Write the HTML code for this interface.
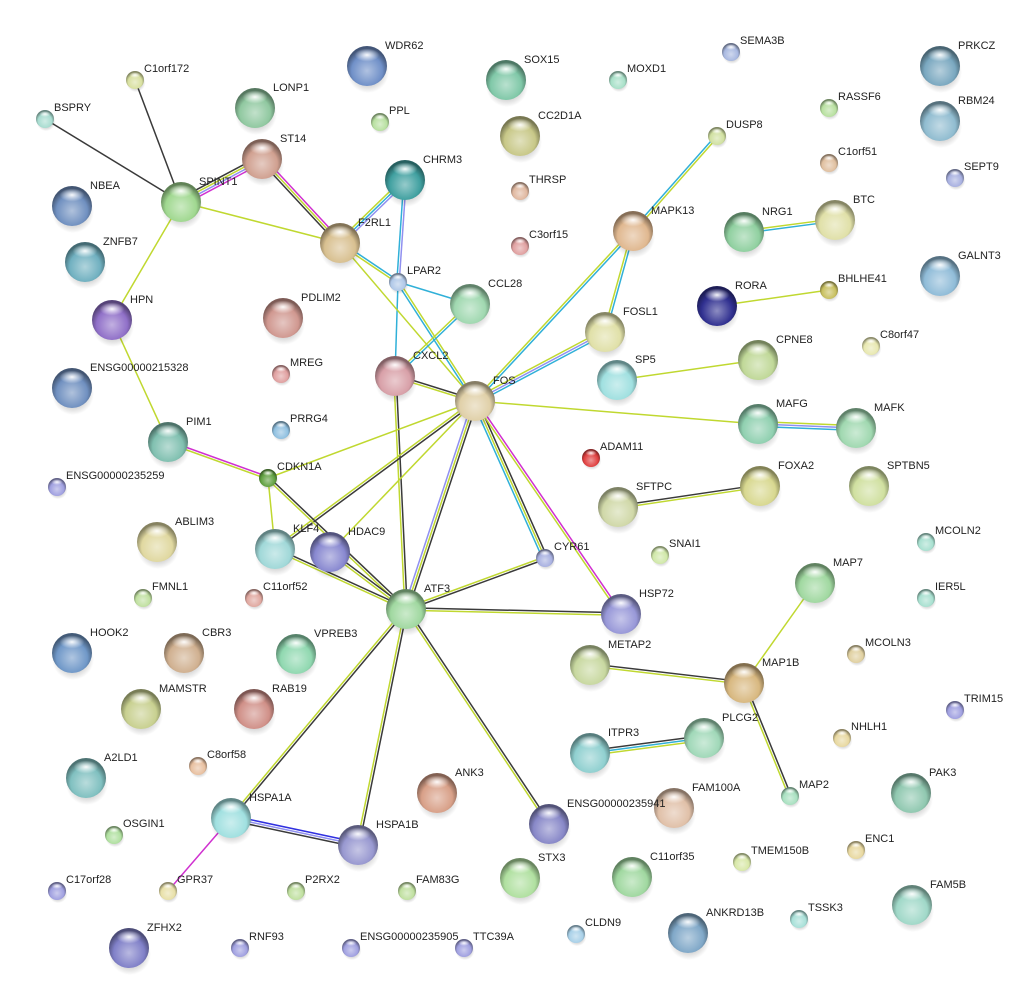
<!DOCTYPE html>
<html><head><meta charset="utf-8"><style>
html,body{margin:0;padding:0;background:#fff;width:1025px;height:993px;overflow:hidden}
svg text{font-family:"Liberation Sans",sans-serif;font-size:11px;fill:#222}
</style></head><body>
<svg id="s" width="1025" height="993" xmlns="http://www.w3.org/2000/svg"><defs id="d"></defs><g id="e"></g><g id="n"></g></svg>
<script>
var N={
"C1orf172":[135,80,9,"#d8e0a0"],"BSPRY":[45,119,9,"#a8dcd0"],"WDR62":[367,66,20,"#7090c8"],"LONP1":[255,108,20,"#90c8a0"],
"PPL":[380,122,9,"#b8e0a0"],"SOX15":[506,80,20,"#80c8a8"],"MOXD1":[618,80,9,"#a8e0c8"],"SEMA3B":[731,52,9,"#a8b8e0"],
"PRKCZ":[940,66,20,"#7aa8c0"],"RASSF6":[829,108,9,"#b8e0a0"],"RBM24":[940,121,20,"#90bcd0"],"CC2D1A":[520,136,20,"#c8c888"],
"DUSP8":[717,136,9,"#d0e0a0"],"C1orf51":[829,163,9,"#e0c0a0"],"SEPT9":[955,178,9,"#a8b0e0"],"ST14":[262,159,20,"#d0a090"],
"CHRM3":[405,180,20,"#40a0a0"],"THRSP":[520,191,9,"#e0b8a0"],"NBEA":[72,206,20,"#7090c0"],"SPINT1":[181,202,20,"#a0d890"],
"F2RL1":[340,243,20,"#d8c090"],"MAPK13":[633,231,20,"#e0b890"],"NRG1":[744,232,20,"#90d0a0"],"BTC":[835,220,20,"#e0e0a8"],
"GALNT3":[940,276,20,"#90bcd8"],"ZNFB7":[85,262,20,"#70b0c0"],"C3orf15":[520,246,9,"#e0a0a0"],"LPAR2":[398,282,9,"#b0c8e8"],
"CCL28":[470,304,20,"#a0d8b0"],"RORA":[717,306,20,"#303090"],"BHLHE41":[829,290,9,"#c8c060"],"HPN":[112,320,20,"#9070c8"],
"PDLIM2":[283,318,20,"#d09890"],"FOSL1":[605,332,20,"#e0e0a8"],"C8orf47":[871,346,9,"#e8e8b0"],"CPNE8":[758,360,20,"#c0d898"],
"ENSG00000215328":[72,388,20,"#7090c0"],"MREG":[281,374,9,"#e0a0a0"],"CXCL2":[395,376,20,"#d8a0a8"],"SP5":[617,380,20,"#a0e0e0"],
"FOS":[475,401,20,"#e0d0a8"],"MAFG":[758,424,20,"#90d0b0"],"MAFK":[856,428,20,"#a0d8b0"],"PIM1":[168,442,20,"#80c0b0"],
"PRRG4":[281,430,9,"#90c0e0"],"ADAM11":[591,458,9,"#e04040"],"CDKN1A":[268,478,9,"#60a040"],"ENSG00000235259":[57,487,9,"#a0a0e0"],
"FOXA2":[760,486,20,"#d8d890"],"SPTBN5":[869,486,20,"#d0e0a0"],"SFTPC":[618,507,20,"#d0d8a8"],"ABLIM3":[157,542,20,"#e0d8a0"],
"KLF4":[275,549,20,"#a0d8d8"],"HDAC9":[330,552,20,"#8888d0"],"MCOLN2":[926,542,9,"#a8e0d0"],"SNAI1":[660,555,9,"#d0e8a8"],
"CYR61":[545,558,9,"#a8b0e0"],"MAP7":[815,583,20,"#a0d8a0"],"FMNL1":[143,598,9,"#c0e0a0"],"C11orf52":[254,598,9,"#e0a8a0"],
"IER5L":[926,598,9,"#a8e0d0"],"ATF3":[406,609,20,"#a0d8a0"],"HSP72":[621,614,20,"#9898d8"],"HOOK2":[72,653,20,"#7098c8"],
"CBR3":[184,653,20,"#d0b090"],"VPREB3":[296,654,20,"#90d8b0"],"METAP2":[590,665,20,"#c8d8a0"],"MCOLN3":[856,654,9,"#e0d0a0"],
"MAP1B":[744,683,20,"#d8b880"],"MAMSTR":[141,709,20,"#c8d090"],"RAB19":[254,709,20,"#d09088"],"TRIM15":[955,710,9,"#a0a0e0"],
"NHLH1":[842,738,9,"#e8d8a0"],"ITPR3":[590,753,20,"#90d0d0"],"PLCG2":[704,738,20,"#a0d8b8"],"A2LD1":[86,778,20,"#80c0c0"],
"C8orf58":[198,766,9,"#e8c0a0"],"MAP2":[790,796,9,"#a8e0c0"],"PAK3":[911,793,20,"#90c8b0"],"ANK3":[437,793,20,"#d8a088"],
"FAM100A":[674,808,20,"#e0c0a8"],"HSPA1A":[231,818,20,"#a0e0e0"],"OSGIN1":[114,835,9,"#b0e0a0"],"ENSG00000235941":[549,824,20,"#8888c8"],
"HSPA1B":[358,845,20,"#9898d0"],"TMEM150B":[742,862,9,"#d8e8a8"],"ENC1":[856,850,9,"#e8d8a0"],"C11orf35":[632,877,20,"#a0d8a0"],
"STX3":[520,878,20,"#b0e0a0"],"C17orf28":[57,891,9,"#a0a0e0"],"GPR37":[168,891,9,"#e8e0a8"],"P2RX2":[296,891,9,"#c0e0a0"],
"FAM83G":[407,891,9,"#c0e0a0"],"FAM5B":[912,905,20,"#a0d8c8"],"TSSK3":[799,919,9,"#a8e0d8"],"ANKRD13B":[688,933,20,"#80a8c8"],
"CLDN9":[576,934,9,"#a8d0e8"],"ZFHX2":[129,948,20,"#8080c8"],"RNF93":[240,948,9,"#a0a0e0"],"ENSG00000235905":[351,948,9,"#a0a0e0"],
"TTC39A":[464,948,9,"#a0a0e0"]};
var K="#3a3a3a",Y="#c0d830",C="#30b0d8",M="#d030d0",B="#3030e0",P="#9090f0";
var E=[["C1orf172","SPINT1",[K]],["BSPRY","SPINT1",[K]],["ST14","SPINT1",[M,P,Y,K]],["ST14","F2RL1",[M,Y,K]],
["SPINT1","F2RL1",[Y]],["SPINT1","HPN",[Y]],["HPN","PIM1",[Y]],["PIM1","CDKN1A",[M,Y]],
["F2RL1","CHRM3",[Y,C,P]],["CHRM3","LPAR2",[P,C]],["F2RL1","LPAR2",[C,Y]],["LPAR2","CXCL2",[C]],["LPAR2","CCL28",[C]],
["LPAR2","FOS",[Y,C]],["F2RL1","FOS",[Y]],["CCL28","CXCL2",[C,Y]],["CXCL2","FOS",[K,Y]],["CXCL2","ATF3",[K,Y]],
["MAPK13","DUSP8",[C,Y]],["MAPK13","FOS",[C,Y]],["MAPK13","FOSL1",[C,Y]],["FOSL1","FOS",[C,P,Y]],
["NRG1","BTC",[Y,C]],["RORA","BHLHE41",[Y]],["SP5","CPNE8",[Y]],["FOS","MAFG",[Y]],["MAFG","MAFK",[Y,P,C]],
["FOS","CDKN1A",[Y]],["FOS","KLF4",[K,Y]],["FOS","HDAC9",[Y]],["FOS","ATF3",[K,Y,P]],["FOS","CYR61",[K,Y,C]],
["FOS","HSP72",[M,Y]],["CDKN1A","KLF4",[Y]],["CDKN1A","ATF3",[K,Y]],["KLF4","ATF3",[K,Y]],["HDAC9","ATF3",[K,Y]],
["CYR61","ATF3",[K,Y]],["ATF3","HSP72",[K,Y]],["ATF3","HSPA1A",[K,Y]],["ATF3","HSPA1B",[K,Y]],["ATF3","ENSG00000235941",[K,Y]],
["HSPA1A","HSPA1B",[B,P,K]],["HSPA1A","GPR37",[M]],["SFTPC","FOXA2",[K,Y]],["MAP7","MAP1B",[Y]],["METAP2","MAP1B",[K,Y]],
["MAP1B","MAP2",[K,Y]],["ITPR3","PLCG2",[K,C,Y]]];
var ns="http://www.w3.org/2000/svg";
function el(t,a,p){var e=document.createElementNS(ns,t);for(var k in a)e.setAttribute(k,a[k]);p.appendChild(e);return e}
function mix(h,c,f){var r=parseInt(h.substr(1,2),16),g=parseInt(h.substr(3,2),16),b=parseInt(h.substr(5,2),16);
var q=parseInt(c.substr(1,2),16),w=parseInt(c.substr(3,2),16),z=parseInt(c.substr(5,2),16);
return "rgb("+Math.round(r+(q-r)*f)+","+Math.round(g+(w-g)*f)+","+Math.round(b+(z-b)*f)+")"}
var eg=document.getElementById("e"),ng=document.getElementById("n"),d=document.getElementById("d");
E.forEach(function(x){var a=N[x[0]],b=N[x[1]],dx=b[0]-a[0],dy=b[1]-a[1],L=Math.hypot(dx,dy),nx=-dy/L,ny=dx/L,n=x[2].length;
x[2].forEach(function(c,i){var o=(i-(n-1)/2)*2.4;el("line",{x1:a[0]+nx*o,y1:a[1]+ny*o,x2:b[0]+nx*o,y2:b[1]+ny*o,stroke:c,"stroke-width":1.5},eg)})});
el("radialGradient",{id:"hl",cx:"50%",cy:"50%",r:"50%"},d).innerHTML='<stop offset="0" stop-color="#fff" stop-opacity="0.95"/><stop offset="1" stop-color="#fff" stop-opacity="0"/>';
el("radialGradient",{id:"sh",cx:"50%",cy:"50%",r:"50%"},d).innerHTML='<stop offset="0.6" stop-color="#000" stop-opacity="0.18"/><stop offset="1" stop-color="#000" stop-opacity="0"/>';
var i=0;
for(var k in N){var v=N[k],x=v[0],y=v[1],r=v[2],c=v[3],id="g"+(i++);
var g=el("radialGradient",{id:id,cx:"50%",cy:"62%",r:"55%"},d);
g.innerHTML='<stop offset="0" stop-color="'+mix(c,"#ffffff",0.45)+'"/><stop offset="0.7" stop-color="'+c+'"/><stop offset="1" stop-color="'+mix(c,"#000000",0.4)+'"/>';
el("ellipse",{cx:x+1,cy:y+r*0.3,rx:r*1.05,ry:r*1.05,fill:"url(#sh)"},ng);
el("circle",{cx:x,cy:y,r:r,fill:"url(#"+id+")"},ng);
el("ellipse",{cx:x,cy:y-r*0.55,rx:r*0.62,ry:r*0.33,fill:"url(#hl)"},ng);
var t=el("text",{x:x+(r>10?18:9),y:y-(r>10?17:8)},ng);t.textContent=k;}
</script>
</body></html>
